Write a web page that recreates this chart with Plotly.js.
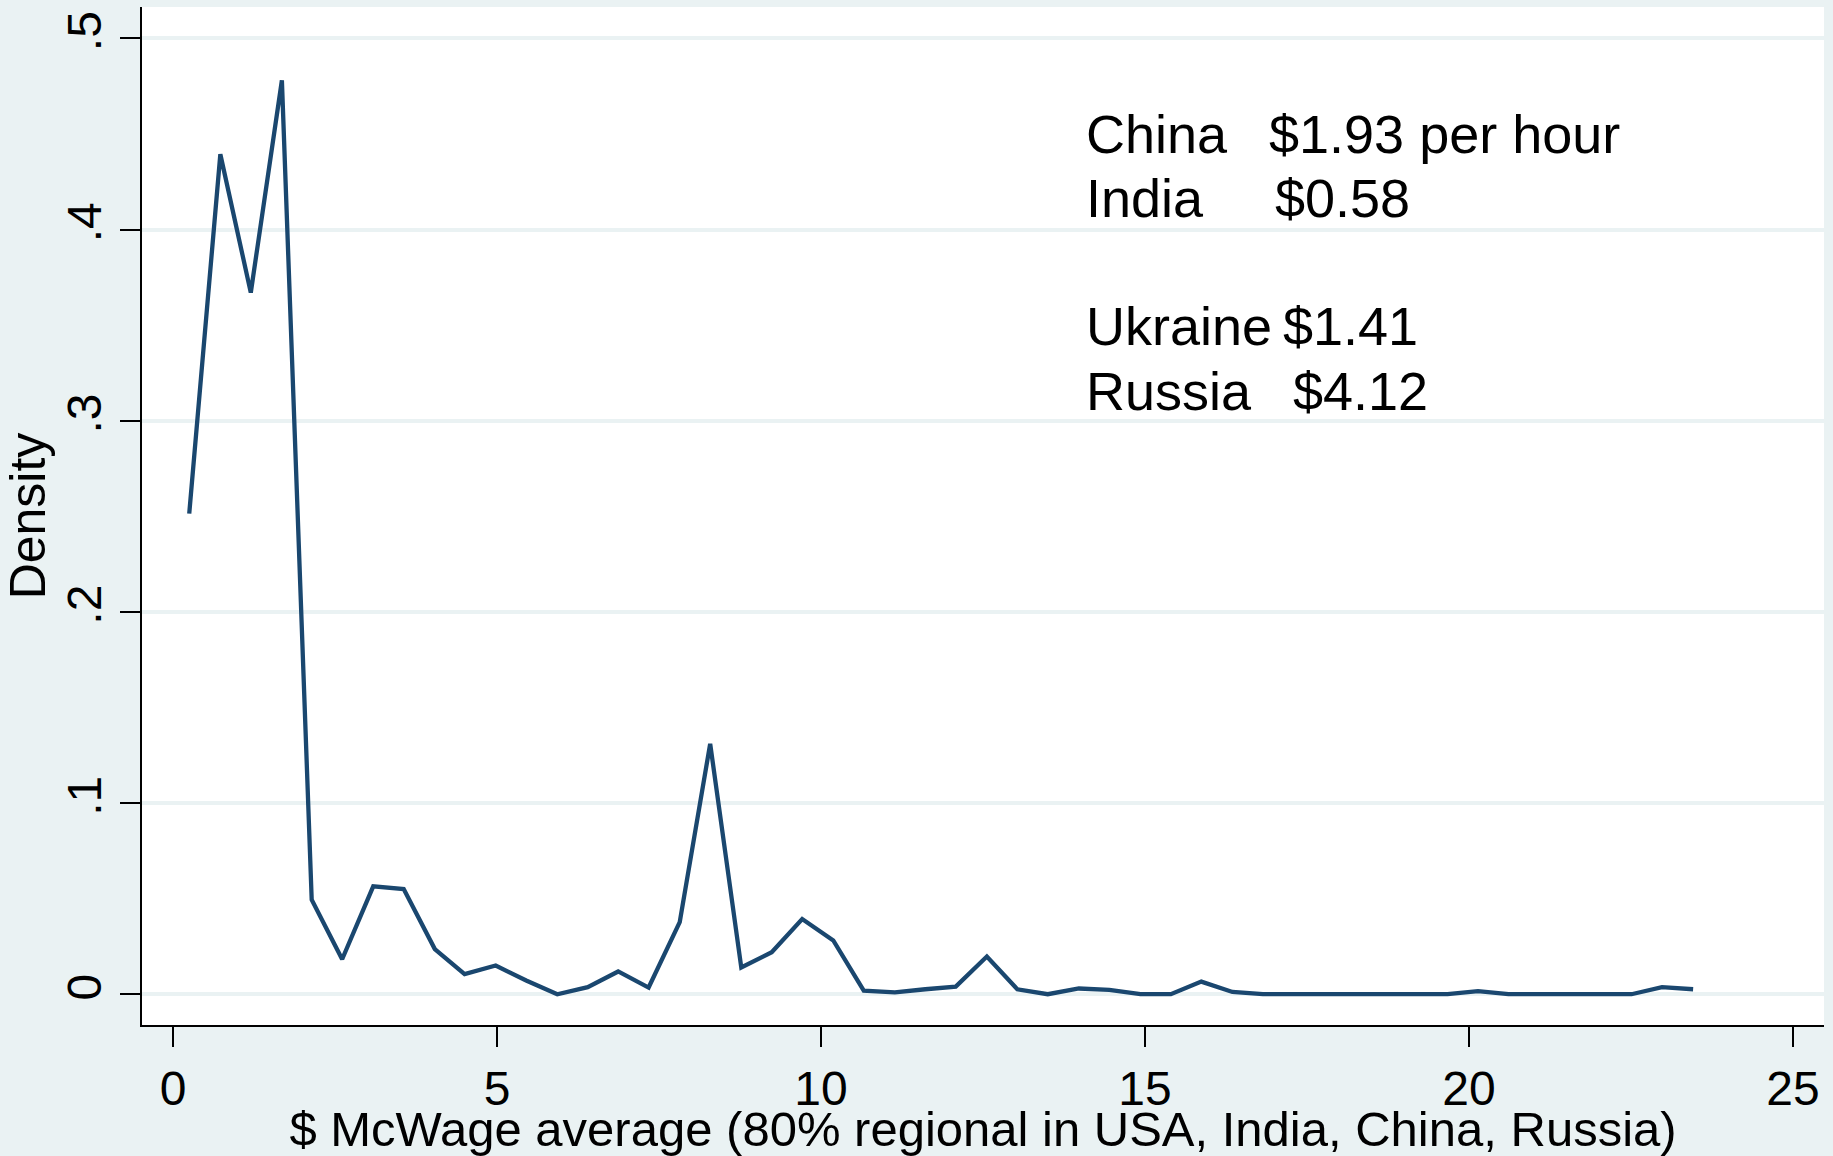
<!DOCTYPE html>
<html>
<head>
<meta charset="utf-8">
<script src="https://cdn.plot.ly/plotly-3.0.1.min.js"></script>
<style>
  html, body { margin: 0; padding: 0; background: #eaf2f3; }
  #chart { width: 1833px; height: 1156px; }
</style>
</head>
<body>
<div id="chart"></div>
<script>
'use strict'

// data

const wage = [0.25, 0.73, 1.20, 1.68, 2.14, 2.61, 3.09, 3.56, 4.04, 4.50,
  4.98, 5.45, 5.93, 6.40, 6.87, 7.34, 7.82, 8.29, 8.77, 9.24,
  9.71, 10.19, 10.66, 11.14, 11.61, 12.08, 12.56, 13.03, 13.50, 13.98,
  14.45, 14.93, 15.40, 15.87, 16.35, 16.82, 17.30, 17.77, 18.24, 18.72,
  19.19, 19.67, 20.14, 20.61, 21.09, 21.56, 22.04, 22.51, 22.98, 23.46]

const density = [0.2514, 0.4394, 0.367, 0.478, 0.0494, 0.0183, 0.0564, 0.055, 0.0236, 0.0105,
  0.015, 0.0072, 0.0, 0.0037, 0.0119, 0.0035, 0.0377, 0.131, 0.014, 0.022,
  0.0393, 0.0281, 0.0019, 0.001, 0.0026, 0.004, 0.0197, 0.0026, 0.0, 0.003,
  0.0023, 0.0, 0.0, 0.0066, 0.0012, 0.0, 0.0, 0.0, 0.0, 0.0,
  0.0, 0.0, 0.0016, 0.0, 0.0, 0.0, 0.0, 0.0, 0.0037, 0.0026]

const xTickVals = [0, 5, 10, 15, 20, 25]
const yTickVals = [0, 0.1, 0.2, 0.3, 0.4, 0.5]
const yTickText = ['0', '.1', '.2', '.3', '.4', '.5']

const countries = ['China', 'India', 'Ukraine', 'Russia']
const wages = ['$1.93 per hour', '$0.58', '$1.41', '$4.12']

///////////////////////////////////////////////////////

// styling

const bg = '#eaf2f3'
const font = '"Liberation Sans", Arial, Helvetica, sans-serif'

// annotation placement (data coords): rows and the column where the $ starts
const rowY = [0.4499, 0.4164, 0.3494, 0.3154]
const valueX = [16.89, 16.98, 17.10, 17.25]

const annotations = []
countries.forEach((c, i) => {
  annotations.push({
    x: 14.06, y: rowY[i], xref: 'x', yref: 'y',
    text: c, showarrow: false, xanchor: 'left', yanchor: 'middle',
    font: { family: font, size: 54, color: '#000' }
  })
  annotations.push({
    x: valueX[i], y: rowY[i], xref: 'x', yref: 'y',
    text: wages[i], showarrow: false, xanchor: 'left', yanchor: 'middle',
    font: { family: font, size: 54, color: '#000' }
  })
})

const trace = {
  type: 'scatter',
  mode: 'lines',
  x: wage,
  y: density,
  line: { color: '#1a476f', width: 4.3 },
  hoverinfo: 'none'
}

const layout = {
  width: 1833,
  height: 1156,
  margin: { l: 142, r: 9, t: 7, b: 131 },
  paper_bgcolor: bg,
  plot_bgcolor: '#ffffff',
  showlegend: false,
  font: { family: font, color: '#000' },
  xaxis: {
    range: [-0.479, 25.48],
    tickmode: 'array',
    tickvals: xTickVals,
    ticks: 'outside',
    ticklen: 20,
    tickwidth: 2,
    tickcolor: '#000',
    ticklabelstandoff: 0,
    tickfont: { family: font, size: 48, color: '#000' },
    showline: true,
    linecolor: '#000',
    linewidth: 2,
    showgrid: false,
    zeroline: false,
    title: {
      text: '$ McWage average (80% regional in USA, India, China, Russia)',
      font: { family: font, size: 49, color: '#000' },
      standoff: 0
    }
  },
  yaxis: {
    range: [-0.0161, 0.5164],
    tickmode: 'array',
    tickvals: yTickVals,
    ticktext: yTickText,
    tickangle: -90,
    ticks: 'outside',
    ticklen: 20,
    tickwidth: 2,
    tickcolor: '#000',
    ticklabelstandoff: 0,
    tickfont: { family: font, size: 48, color: '#000' },
    showline: true,
    linecolor: '#000',
    linewidth: 2,
    showgrid: true,
    gridcolor: bg,
    gridwidth: 4,
    zeroline: false,
    title: {
      text: 'Density',
      font: { family: font, size: 50, color: '#000' },
      standoff: 4
    }
  },
  annotations: annotations
}

Plotly.newPlot('chart', [trace], layout, { staticPlot: true, displayModeBar: false })
</script>
</body>
</html>
